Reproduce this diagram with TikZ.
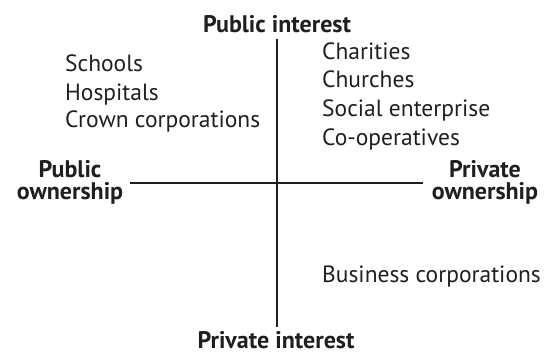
\documentclass[tikz,border=0pt]{standalone}
\usepackage{fontspec}
\setmainfont{PT Sans}
\begin{document}
\begin{tikzpicture}[x=1pt,y=1pt,
  item/.style={anchor=base west,inner sep=0pt,font=\fontsize{23.5}{23.5}\selectfont,text=black!88},
  axislabel/.style={inner sep=0pt,font=\fontsize{24}{22.5}\selectfont\bfseries,text=black!88},
  axisline/.style={line width=1.7pt,black!88}]
\useasboundingbox (0,0) rectangle (548,354);
% axes
\coordinate (top) at (277,315);
\coordinate (bottom) at (277,27);
\coordinate (left) at (130,171);
\coordinate (right) at (423,171);
\draw[axisline] (top) -- (bottom);
\draw[axisline] (left) -- (right);
% axis labels
\node[axislabel,anchor=base] (pubint) at (277,321) {Public interest};
\node[axislabel,anchor=base] (privint) at (276,5.5) {Private interest};
\node[axislabel,align=center,anchor=base] (pubown) at (70,154.5) {Public\\ownership};
\node[axislabel,align=center,anchor=base] (privown) at (485,154.5) {Private\\ownership};
% public quadrant
\node[item] (schools) at (65,282) {Schools};
\node[item] (hospitals) at (65,254) {Hospitals};
\node[item] (crown) at (65,226) {Crown corporations};
% private quadrant
\node[item] (charities) at (322,294) {Charities};
\node[item] (churches) at (322,266) {Churches};
\node[item] (social) at (322,237) {Social enterprise};
\node[item] (coop) at (322,209) {Co-operatives};
\node[item] (business) at (322,72) {Business corporations};
\end{tikzpicture}
\end{document}
